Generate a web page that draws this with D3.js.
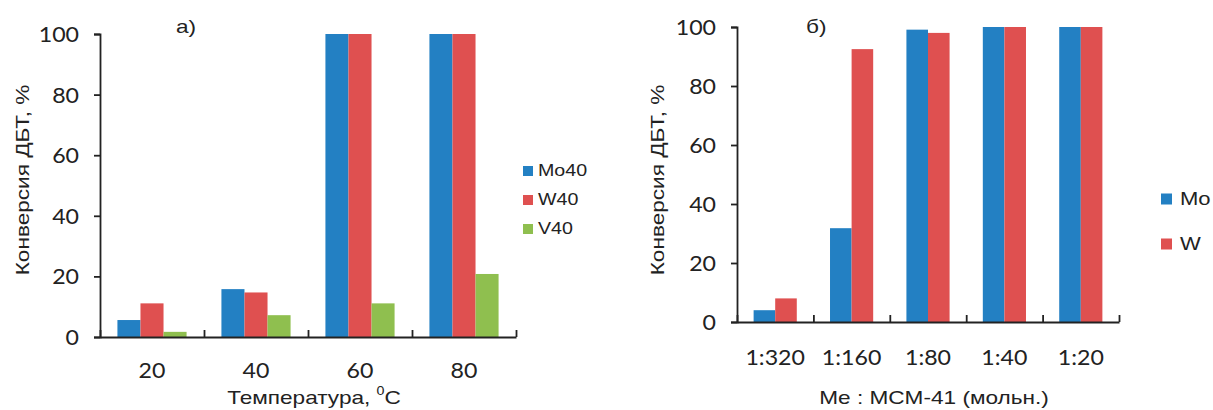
<!DOCTYPE html>
<html>
<head>
<meta charset="utf-8">
<script src="https://cdn.jsdelivr.net/npm/d3@7"></script>
<style>
  html, body { margin: 0; padding: 0; background: #fff; }
  svg { display: block; }
  .num { font-family: Lato, "Open Sans", sans-serif; fill: #222; }
  .title { font-family: "Liberation Sans", Arial, sans-serif; fill: #222; }
</style>
</head>
<body>
<svg id="chart" width="1213" height="410"></svg>
<script>
// Panel а) — conversion vs temperature
const tempCategories = ["20", "40", "60", "80"];
const tempSeriesNames = ["Mo40", "W40", "V40"];
const mo40 = [5.6, 15.8, 100, 100];
const w40 = [11.1, 14.7, 100, 100];
const v40 = [1.7, 7.2, 11.1, 20.8];

// Panel б) — conversion vs metal loading ratio
const ratioCategories = ["1:320", "1:160", "1:80", "1:40", "1:20"];
const ratioSeriesNames = ["Mo", "W"];
const moRatio = [4.0, 31.8, 99.1, 100, 100];
const wRatio = [8.0, 92.5, 98.0, 100, 100];

const yTicks = [0, 20, 40, 60, 80, 100];
const colors = ["#2380c3", "#df5050", "#8fbf4f"];
const axisColor = "#222";

// wide lettering: glyphs are stretched along the reading direction
const TITLE_STRETCH = 1.19;
const NUM_STRETCH = 1.13;

const svg = d3.select("#chart");

// places a text at (x, y), optionally rotated, stretched along its baseline
function label(parent, x, y, cls, size, anchor, stretch, rotate = 0) {
  return parent.append("g")
    .attr("transform", `translate(${x},${y}) rotate(${rotate})`)
    .append("text")
    .attr("class", cls)
    .attr("transform", `scale(${stretch},1)`)
    .attr("text-anchor", anchor)
    .attr("dominant-baseline", "central")
    .attr("font-size", size);
}

function drawPanel(opts) {
  const { x0, x1, yTop, yBottom, categories, series, names, groupFrac, tag, tagX,
          yTitleX, xTitle, xTitleY, xLabelY, legend } = opts;
  const g = svg.append("g");

  const y = d3.scaleLinear().domain([0, 100]).range([yBottom, yTop]);
  const xBand = d3.scaleBand().domain(categories).range([x0, x1]).paddingInner(0).paddingOuter(0);
  const xIdx = d3.scaleLinear().domain([0, categories.length]).range([x0, x1]);
  const inner = d3.scaleBand().domain(names)
    .range([xBand.bandwidth() * (1 - groupFrac) / 2, xBand.bandwidth() * (1 + groupFrac) / 2]);

  // bars
  names.forEach((name, si) => {
    g.append("g").selectAll("rect")
      .data(series[si])
      .join("rect")
      .attr("x", (d, i) => xBand(categories[i]) + inner(name))
      .attr("y", d => y(d))
      .attr("width", inner.bandwidth())
      .attr("height", d => y(0) - y(d))
      .attr("fill", colors[si]);
  });

  // y axis
  const yAxis = g.append("g")
    .attr("transform", `translate(${x0},0)`)
    .call(d3.axisLeft(y).tickValues(yTicks).tickSizeInner(6).tickSizeOuter(6).tickFormat(""));
  yAxis.select(".domain").attr("stroke", axisColor).attr("stroke-width", 1.8);
  yAxis.selectAll(".tick line").attr("stroke", axisColor).attr("stroke-width", 1.8);
  yTicks.forEach(v => {
    label(g, x0 - 21, y(v), "num", 20.5, "end", NUM_STRETCH).text(v);
  });

  // x axis with ticks at category boundaries
  const xAxis = g.append("g")
    .attr("transform", `translate(0,${yBottom})`)
    .call(d3.axisBottom(xIdx).tickValues(d3.range(categories.length + 1))
      .tickSizeInner(-7).tickSizeOuter(0).tickFormat(""));
  xAxis.select(".domain").attr("stroke", axisColor).attr("stroke-width", 1.8);
  xAxis.selectAll(".tick line").attr("stroke", axisColor).attr("stroke-width", 1.8);

  // category labels
  categories.forEach(c => {
    label(g, xBand(c) + xBand.bandwidth() / 2, xLabelY, "num", 20.5, "middle", NUM_STRETCH).text(c);
  });

  // axis titles
  label(g, yTitleX, 180, "title", 19, "middle", TITLE_STRETCH, -90).text("Конверсия ДБТ, %");
  xTitle(label(g, (x0 + x1) / 2 + 6, xTitleY, "title", 19, "middle", TITLE_STRETCH));

  // panel tag
  label(g, tagX, 26, "title", 19, "start", TITLE_STRETCH).text(tag);

  // legend
  names.forEach((name, i) => {
    const cy = legend.y + i * legend.step;
    g.append("rect")
      .attr("x", legend.x)
      .attr("y", cy - legend.box / 2)
      .attr("width", legend.box)
      .attr("height", legend.box)
      .attr("fill", colors[i]);
    label(g, legend.x + legend.box + legend.gap, cy, "title", legend.size, "start", TITLE_STRETCH).text(name);
  });
}

drawPanel({
  x0: 100, x1: 516, yTop: 34, yBottom: 337,
  categories: tempCategories,
  series: [mo40, w40, v40],
  names: tempSeriesNames,
  groupFrac: 0.665,
  tag: "а)", tagX: 176,
  yTitleX: 22,
  xLabelY: 370,
  xTitleY: 397,
  xTitle: t => {
    t.append("tspan").text("Температура, ");
    t.append("tspan").attr("font-size", 12).attr("dy", -7).text("0");
    t.append("tspan").attr("dy", 7).text("C");
  },
  legend: { x: 523, y: 171, step: 29, box: 10, gap: 5, size: 16.5 }
});

drawPanel({
  x0: 737, x1: 1119, yTop: 27, yBottom: 322,
  categories: ratioCategories,
  series: [moRatio, wRatio],
  names: ratioSeriesNames,
  groupFrac: 0.565,
  tag: "б)", tagX: 806,
  yTitleX: 657,
  xLabelY: 357,
  xTitleY: 397,
  xTitle: t => t.text("Me : MCM-41 (мольн.)"),
  legend: { x: 1161, y: 199, step: 45, box: 11, gap: 8, size: 18.5 }
});
</script>
</body>
</html>
